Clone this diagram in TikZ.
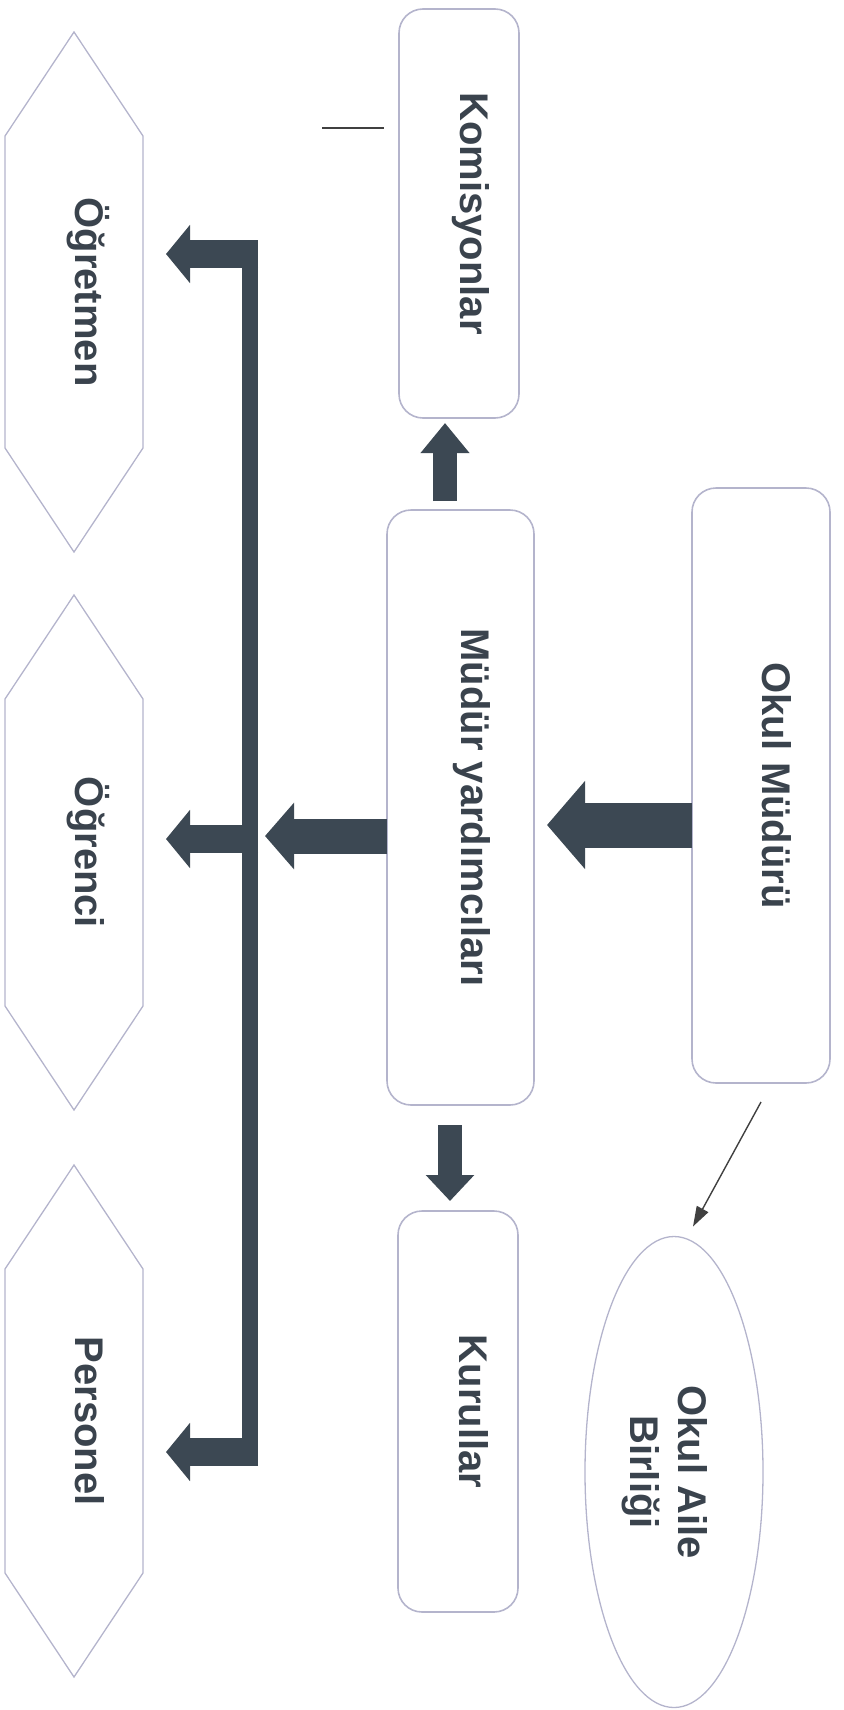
\documentclass[tikz,border=0pt]{standalone}
\usepackage{fontspec}
\setmainfont{Liberation Sans}
\usepackage{graphicx}
\usetikzlibrary{arrows.meta,calc,shapes.geometric}
\definecolor{slate}{HTML}{3C4853}
\definecolor{rim}{HTML}{B4B4CC}
\definecolor{ink}{HTML}{3A434D}
\newcommand{\vtext}[1]{\rotatebox{-90}{\raisebox{1pt}[0pt][0pt]{#1}}}
\tikzset{txt/.style={text=ink, font=\fontsize{40}{48}\selectfont\bfseries, inner sep=0pt, outer sep=0pt}}
\tikzset{unit/.style={txt, draw=rim, line width=1.6pt, rounded corners=24pt}}
\tikzset{hexa/.style={txt, minimum width=138pt}}
\tikzset{hexline/.style={draw=rim, line width=1.3pt}}
\tikzset{blockarrow/.style={draw=slate, line width=#1}}
\tikzset{trunk/.style={draw=slate, line width=16pt}}
\tikzset{thinarrow/.style={draw=black!75, line width=1.4pt, -{Triangle[length=20pt,width=13pt]}}}

\begin{document}
\begin{tikzpicture}[x=1pt,y=-1pt]
\useasboundingbox (0,0) rectangle (843,1710);
\node (komis) at (459,213.5)[unit, minimum width=120pt, minimum height=409pt]{\vtext{Komisyonlar}};
\node (myard) at (460.5,807.5)[unit, minimum width=147pt, minimum height=595pt]{\vtext{Müdür yardımcıları}};
\node (kurul) at (458,1411.5)[unit, minimum width=120pt, minimum height=401pt]{\vtext{Kurullar}};
\node (okulm) at (761,785.5)[unit, minimum width=138pt, minimum height=595pt]{\vtext{Okul Müdürü}};
\node (oab) at (674,1472)[txt, ellipse, draw=rim, line width=1.3pt, minimum width=178pt, minimum height=471pt]{\rotatebox{-90}{\raisebox{4pt}[0pt][0pt]{\begin{tabular}[t]{@{}c@{}}Okul Aile\\Birliği\end{tabular}}}};
\node (ogretmen) at (74,292)[hexa, minimum height=520pt]{\vtext{Öğretmen}};
\node (ogrenci) at (74,852.5)[hexa, minimum height=515pt]{\vtext{Öğrenci}};
\node (personel) at (74,1421)[hexa, minimum height=512pt]{\vtext{Personel}};
% pointed ends of the hexagons
\foreach \h in {ogretmen,ogrenci,personel}
  \draw[hexline] (\h.north) -- ($(\h.north east)+(0,104)$) -- ($(\h.south east)+(0,-104)$) -- (\h.south) -- ($(\h.south west)+(0,-104)$) -- ($(\h.north west)+(0,104)$) -- cycle;

\coordinate (top) at (250,240);
\coordinate (bot) at (250,1466);
\coordinate (j1) at (258,254);
\coordinate (j2) at (258,839);
\coordinate (j3) at (258,1452);
\coordinate (stubl) at (322,128);
\coordinate (stubr) at (384,128);

\draw[trunk] (top) -- (bot);
\draw[blockarrow=28pt, -{Triangle[length=24pt,width=57pt]}, shorten >=23pt] (j1) -- (ogretmen.east |- j1);
\draw[blockarrow=28pt, -{Triangle[length=24pt,width=57pt]}, shorten >=23pt] (j2) -- (ogrenci.east |- j2);
\draw[blockarrow=28pt, -{Triangle[length=24pt,width=57pt]}, shorten >=23pt] (j3) -- (personel.east |- j3);
\draw[blockarrow=35pt, -{Triangle[length=29pt,width=65pt]}] ($(myard.west)+(0,28.5)$) -- ($(myard.west -| j2)+(7,28.5)$);
\draw[blockarrow=45pt, -{Triangle[length=38pt,width=86pt]}] ($(okulm.west)+(0,39.5)$) -- ($(myard.east)+(13,17.5)$);
\draw[blockarrow=24pt, -{Triangle[length=30pt,width=47pt]}] ($(myard.north)+(-15.5,-9)$) -- ($(komis.south)+(-14,5)$);
\draw[blockarrow=24pt, -{Triangle[length=26pt,width=47pt]}] ($(myard.south)+(-10.5,20)$) -- ($(kurul.north)+(-8,-10)$);
\draw[thinarrow] ($(okulm.south)+(0,19)$) -- ($(oab.north)+(19,-10)$);
\draw[line width=1.4pt, black!75] (stubl) -- (stubr);
\end{tikzpicture}
\end{document}
